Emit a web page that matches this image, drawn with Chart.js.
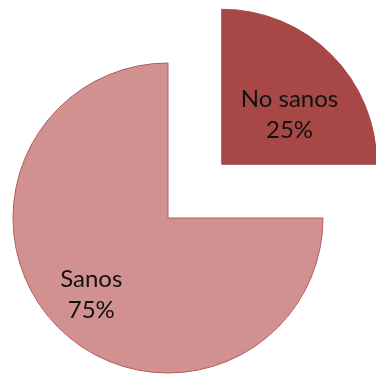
<!DOCTYPE html>
<html>
<head>
<meta charset="utf-8">
<script src="https://cdn.jsdelivr.net/npm/chart.js@4"></script>
<style>
  html, body { margin: 0; padding: 0; background: #fff; }
  #wrap { width: 376px; height: 374px; }
</style>
</head>
<body>
<div id="wrap"><canvas id="pieChart"></canvas></div>
<script>
const labels = ['No sanos', 'Sanos'];
const values = [25, 75];
const colors = ['#a84846', '#d19190'];
const borders = ['#a84846', '#b65a5a'];
// Chart.js v4 moves an arc by offset / 4 px
const offsets = [304, 0];

// writes "Label\nNN%" inside each slice
const sliceLabels = {
    id: 'sliceLabels',
    afterDatasetsDraw(chart, args, opts) {
        const ctx = chart.ctx;
        const arcs = chart.getDatasetMeta(0).data;
        const total = values.reduce((a, b) => a + b, 0);
        ctx.save();
        ctx.font = '24px Lato';
        ctx.fillStyle = '#111';
        ctx.textAlign = 'center';
        ctx.textBaseline = 'middle';
        arcs.forEach((arc, i) => {
            const mid = (arc.startAngle + arc.endAngle) / 2;
            const off = (arc.options.offset || 0) / 4;
            const r = arc.outerRadius * opts.frac[i] + off;
            const x = arc.x + Math.cos(mid) * r + opts.nudge[i][0];
            const y = arc.y + Math.sin(mid) * r + opts.nudge[i][1];
            const pct = Math.round(values[i] / total * 100) + '%';
            ctx.fillText(labels[i], x, y - 15);
            ctx.fillText(pct, x, y + 16);
        });
        ctx.restore();
    }
};

window.onload = function() {
    const ctx = document.getElementById('pieChart').getContext('2d');
    new Chart(ctx, {
        type: 'pie',
        data: {
            labels: labels,
            datasets: [{
                data: values,
                backgroundColor: colors,
                borderColor: borders,
                borderWidth: 1,
                offset: offsets,
                clip: false
            }]
        },
        options: {
            responsive: true,
            maintainAspectRatio: false,
            animation: false,
            radius: 155,
            layout: { padding: { left: 0, right: 40, top: 62, bottom: 0 } },
            plugins: {
                legend: { display: false },
                tooltip: { enabled: false },
                sliceLabels: { frac: [0.6, 0.7], nudge: [[2, 16], [0, 0]] }
            }
        },
        plugins: [sliceLabels]
    });
};
</script>
</body>
</html>
